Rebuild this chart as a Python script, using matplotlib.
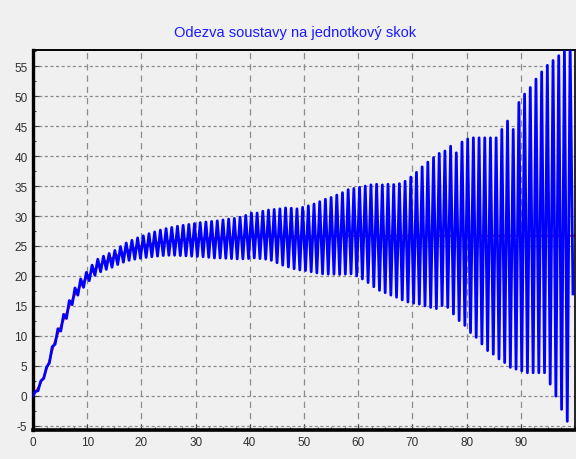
import numpy as np
import matplotlib
matplotlib.use("Agg")
import matplotlib.pyplot as plt
from matplotlib.ticker import MultipleLocator

# Oscillation period of the measured response (time units)
period = 1.05
phase = 0.4

# Local maxima of the measured response, one per oscillation cycle
peaks = [
    0.7, 2.5, 4.75, 8.2, 11.2, 13.6, 15.9, 18.0, 19.5, 20.6,
    21.8, 22.8, 23.3, 23.75, 24.25, 24.9, 25.5, 25.95, 26.35, 26.7,
    27.05, 27.35, 27.65, 27.9, 28.1, 28.3, 28.45, 28.6, 28.75, 28.9,
    29.0, 29.1, 29.2, 29.35, 29.5, 29.6, 29.8, 30.1, 30.5, 30.5,
    30.8, 31.0, 31.1, 31.2, 31.35, 31.3, 31.2, 31.45, 31.7, 32.0,
    32.4, 32.8, 33.1, 33.5, 33.9, 34.4, 34.6, 34.8, 35.0, 35.2,
    35.3, 35.2, 35.3, 35.25, 35.4, 35.8, 36.5, 37.3, 38.2, 39.0,
    39.75, 40.45, 40.85, 41.65, 40.55, 42.35, 42.85, 43.05, 43.05, 43.05,
    43.05, 43.05, 44.45, 45.85, 44.45, 48.95, 50.35, 51.45, 52.85, 54.05,
    55.15, 55.95, 56.75, 57.6, 58.5,
]

# Local minima of the measured response, one per oscillation cycle
troughs = [
    0.85, 2.9, 5.5, 8.6, 10.8, 12.9, 15.2, 16.8, 18.1, 19.2,
    20.1, 20.7, 21.1, 21.45, 21.9, 22.3, 22.6, 22.8, 22.95, 23.1,
    23.2, 23.3, 23.4, 23.45, 23.45, 23.4, 23.35, 23.3, 23.25, 23.2,
    23.1, 23.0, 23.0, 22.95, 22.9, 22.85, 22.85, 22.9, 23.0, 22.9,
    22.8, 22.6, 22.2, 21.8, 21.5, 21.2, 21.0, 20.9, 20.7, 20.5,
    20.35, 20.3, 20.3, 20.25, 20.3, 20.35, 20.0, 19.5, 18.9, 18.2,
    17.6, 17.2, 16.8, 16.45, 16.0, 15.65, 15.45, 15.3, 15.0, 14.75,
    14.55, 15.05, 14.75, 13.65, 12.55, 11.75, 10.55, 9.75, 8.65, 7.55,
    6.95, 6.15, 5.55, 4.75, 4.45, 4.15, 3.85, 3.85, 3.85, 3.85,
    1.95, -0.05, -2.25, -4.25, 17.0,
]

# Model step response (reference curve)
model_t = [0, 1, 2, 3, 4, 5, 6, 7, 8, 9, 10, 11, 12, 13, 14, 15, 16, 17, 18,
           19, 20, 22, 24, 26, 28, 30, 35, 40, 50, 60, 70, 80, 90, 100]
model_y = [0, 1.4, 3.2, 5.8, 9.0, 11.3, 13.4, 15.6, 17.3, 18.7, 19.8, 20.8,
           21.6, 22.2, 22.7, 23.2, 23.6, 24.0, 24.4, 24.7, 25.0, 25.4, 25.7,
           25.9, 26.1, 26.2, 26.4, 26.5, 26.6, 26.7, 26.7, 26.7, 26.7, 26.7]

x_ticks = [0, 10, 20, 30, 40, 50, 60, 70, 80, 90]
y_ticks = [-5, 0, 5, 10, 15, 20, 25, 30, 35, 40, 45, 50, 55]

text_font = dict(family=["Liberation Sans", "DejaVu Sans"])

# Build the measured trace: start at rest, then alternate max/min each cycle
k = np.arange(len(peaks))
t_peak = phase + period * k
t_trough = t_peak + period / 2
t = np.concatenate([[0.0], np.column_stack([t_peak, t_trough]).ravel()])
y = np.concatenate([[0.0], np.column_stack([peaks, troughs]).ravel()])

bg = "#f0f0f0"
fig = plt.figure(figsize=(5.76, 4.6), dpi=100, facecolor=bg)
ax = fig.add_axes([33 / 576, 29 / 460, (575 - 33) / 576, (431 - 51) / 460])
ax.set_facecolor(bg)

ax.plot(model_t, model_y, color="#ff0000", lw=1.4, zorder=2)
ax.plot(t, y, color="#0000ff", lw=2.0, zorder=3)

ax.set_xlim(0, 100)
ax.set_ylim(-5.7, 57.7)
ax.set_xticks(x_ticks)
ax.set_yticks(y_ticks)
ax.xaxis.set_minor_locator(MultipleLocator(2.5))
ax.yaxis.set_minor_locator(MultipleLocator(2.5))

ax.set_xticklabels([str(v) for v in x_ticks], color="#303030", size=8.5,
                   **text_font)
ax.set_yticklabels([str(v) for v in y_ticks], color="#303030", size=8.5,
                   **text_font)
ax.tick_params(which="major", direction="in", length=4, width=0.8,
               color="#404040", pad=4)
ax.tick_params(which="minor", direction="in", length=2.5, width=0.8,
               color="#404040")

ax.grid(True, axis="x", color="#8c8c8c", linestyle=(0, (5, 4)), lw=0.9)
ax.grid(True, axis="y", color="#8c8c8c", linestyle=(0, (2.5, 2)), lw=0.9)
ax.set_axisbelow(True)

for side, w in (("left", 2.4), ("bottom", 2.6), ("top", 1.4), ("right", 1.2)):
    ax.spines[side].set_color("black")
    ax.spines[side].set_linewidth(w)

fig.text(295 / 576, 1 - 33 / 460, "Odezva soustavy na jednotkový skok",
         ha="center", va="center", color="#1a1aff", size=10.5, **text_font)

fig.savefig("out.png", dpi=100, facecolor=bg)
